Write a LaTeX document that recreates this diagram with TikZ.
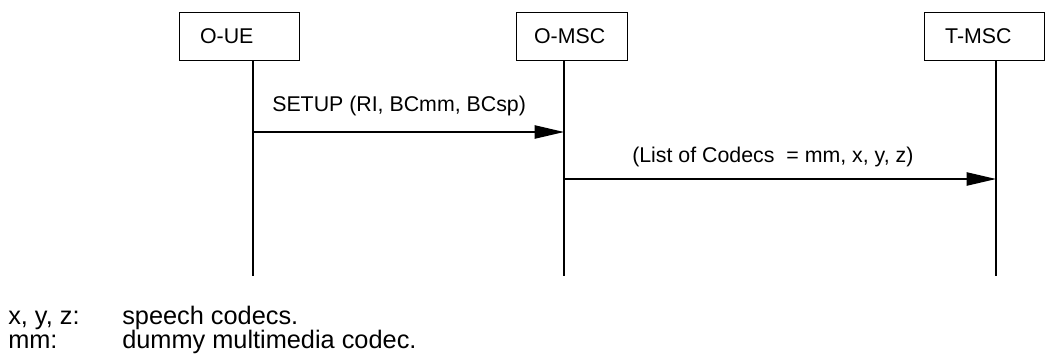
\documentclass[tikz,border=0pt]{standalone}
\usepackage{fontspec}
\setmainfont{Liberation Sans}
\usetikzlibrary{arrows.meta}
\tikzset{
  entity/.style={draw,line width=0.9pt,anchor=north west,minimum height=36pt,
    inner xsep=15.4pt,text width=#1,align=left},
  lifeline/.style={line width=0.9pt},
  msg/.style={line width=0.9pt,-{Triangle[length=22pt,width=10pt]}},
  txt/.style={anchor=base west,inner sep=0pt},
  key/.style={txt,font=\fontsize{19}{22}\selectfont}
}
\begin{document}
\begin{tikzpicture}[x=0.75pt,y=-0.75pt,font=\fontsize{16}{19}\selectfont]
\useasboundingbox (0,0) rectangle (1049,358);
\node[entity=59.2pt] (oue) at (179,12) {O-UE};
\node[entity=57pt,inner xsep=13.1pt] (omsc) at (516,12) {O-MSC};
\node[entity=59.2pt] (tmsc) at (924,12) {T-MSC};
\coordinate (oueTop) at (253,60);  \coordinate (oueEnd) at (253,276);
\coordinate (omscTop) at (564,60); \coordinate (omscEnd) at (564,276);
\coordinate (tmscTop) at (996,60); \coordinate (tmscEnd) at (996,276);
\draw[lifeline] (oueTop)--(oueEnd);
\draw[lifeline] (omscTop)--(omscEnd);
\draw[lifeline] (tmscTop)--(tmscEnd);
\coordinate (setupA) at (253,132); \coordinate (setupB) at (564,132);
\coordinate (listA) at (564,179);  \coordinate (listB) at (996,179);
\draw[msg] (setupA)--(setupB);
\draw[msg] (listA)--(listB);
\node[txt] (setup) at (272,111) {SETUP (RI, BCmm, BCsp)};
\node[txt] (codecs) at (632,162) {(List of Codecs\ \ = mm, x, y, z)};
\node[key] (keyxyz) at (8,324) {x, y, z:};
\node[key] (keyspeech) at (122,324) {speech codecs.};
\node[key] (keymm) at (8,348) {mm:};
\node[key] (keydummy) at (122,348) {dummy multimedia codec.};
\end{tikzpicture}
\end{document}
